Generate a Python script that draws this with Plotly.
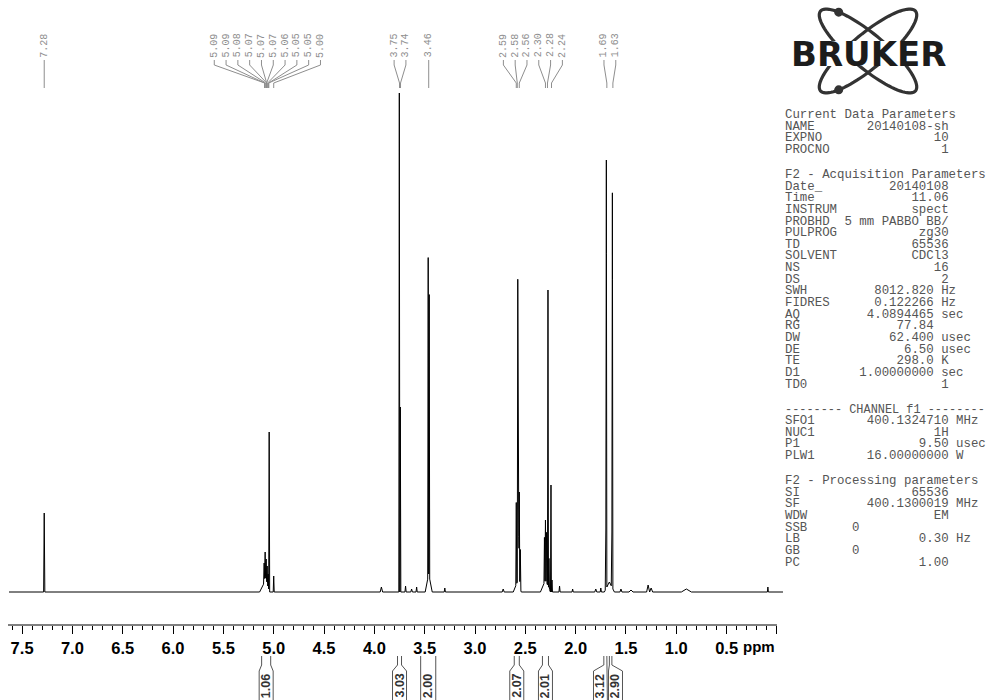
import numpy as np
import plotly.graph_objects as go

# ---------------- data ----------------
# spectrum peaks: position (ppm), height (arb. units), half width (ppm)
peak_ppm = [7.28, 5.10, 5.095, 5.085, 5.075, 5.065, 5.055, 5.045, 5.00,
            3.93, 3.752, 3.742, 3.69, 3.63, 3.58, 3.46, 3.465, 3.455, 3.30,
            2.72, 2.58, 2.59, 2.575, 2.568, 2.56, 2.55,
            2.30, 2.31, 2.30, 2.29, 2.275, 2.265, 2.245, 2.235,
            2.16, 2.03, 1.80, 1.75, 1.665, 1.70, 1.695, 1.64, 1.635,
            1.55, 1.45, 1.28, 1.25, 0.90, 0.09]
peak_height = [79, 8, 22, 35, 30, 25, 18, 160, 16,
               5, 499, 185, 6, 3, 5, 18, 319, 282, 4,
               3, 10, 82, 304, 123, 95, 40,
               12, 45, 60, 50, 296, 30, 107, 12,
               6, 3, 3, 4, 10, 60, 418, 55, 386,
               3, 2, 7, 4, 3, 5]
peak_halfwidth = [0.006, 0.04, 0.006, 0.006, 0.006, 0.006, 0.006, 0.005, 0.005,
                  0.012, 0.005, 0.005, 0.006, 0.008, 0.006, 0.035, 0.005, 0.005, 0.006,
                  0.01, 0.04, 0.005, 0.005, 0.005, 0.005, 0.006,
                  0.05, 0.005, 0.005, 0.005, 0.005, 0.005, 0.004, 0.005,
                  0.006, 0.006, 0.01, 0.006, 0.05, 0.006, 0.005, 0.006, 0.005,
                  0.01, 0.02, 0.015, 0.015, 0.05, 0.005]
spectrum_start, spectrum_end = 7.63, -0.06

# peak picking labels (ppm)
peak_labels = [7.28, 5.09, 5.09, 5.08, 5.07, 5.07, 5.07, 5.06, 5.05, 5.05, 5.00,
               3.75, 3.74, 3.46, 2.59, 2.58, 2.56, 2.30, 2.28, 2.24, 1.69, 1.63]

# integrals
integral_values = ["1.06", "3.03", "2.00", "2.07", "2.01", "3.12", "2.90"]
integral_start = [5.12, 3.77, 3.54, 2.61, 2.33, 1.72, 1.665]
integral_end = [5.03, 3.73, 3.39, 2.56, 2.27, 1.69, 1.64]

# axis ticks
tick_values = [7.5, 7.0, 6.5, 6.0, 5.5, 5.0, 4.5, 4.0, 3.5, 3.0, 2.5, 2.0, 1.5, 1.0, 0.5, 0.0]

# parameter block
cur_keys = ["NAME", "EXPNO", "PROCNO"]
cur_vals = ["20140108-sh", "10", "1"]
acq_keys = ["Date_", "Time", "INSTRUM", "PROBHD", "PULPROG", "TD", "SOLVENT", "NS", "DS",
            "SWH", "FIDRES", "AQ", "RG", "DW", "DE", "TE", "D1", "TD0"]
acq_vals = ["20140108", "11.06", "spect", "5 mm PABBO BB/", "zg30", "65536", "CDCl3", "16", "2",
            "8012.820", "0.122266", "4.0894465", "77.84", "62.400", "6.50", "298.0", "1.00000000", "1"]
acq_units = ["", "", "", "", "", "", "", "", "",
             "Hz", "Hz", "sec", "", "usec", "usec", "K", "sec", ""]
chan_keys = ["SFO1", "NUC1", "P1", "PLW1"]
chan_vals = ["400.1324710", "1H", "9.50", "16.00000000"]
chan_units = ["MHz", "", "usec", "W"]
proc_keys = ["SI", "SF", "WDW", "SSB", "LB", "GB", "PC"]
proc_vals = ["65536", "400.1300019", "EM", "0", "0.30", "0", "1.00"]
proc_units = ["", "MHz", "", "", "Hz", "", ""]

# ---------------- layout constants ----------------
W, H = 991, 700
ML, MR = 8, 206
X_LEFT, X_RIGHT = 7.64, -0.08
PLOT_W = W - ML - MR
PPM_PER_PX = (X_LEFT - X_RIGHT) / PLOT_W
BASE_PX = 592          # baseline row (pixels from top)
AXIS_PX = 625          # axis row


def ydat(py):
    return BASE_PX - py


def paper_x(px):
    return (px - ML) / PLOT_W


def paper_y(py):
    return (H - py) / H


GRAY = "#8e8e8e"
fig = go.Figure()

# ---------------- spectrum ----------------
pk = np.array(peak_ppm)
hh = np.array(peak_height, dtype=float)
ww = np.array(peak_halfwidth)
xs = np.unique(np.concatenate([pk - ww, pk, pk + ww, [spectrum_start, spectrum_end]]))
xs = xs[(xs <= spectrum_start) & (xs >= spectrum_end)]
ys = np.zeros_like(xs)
for p, h, w in zip(pk, hh, ww):
    ys += np.clip(h * (1 - np.abs(xs - p) / w), 0, None)
fig.add_trace(go.Scatter(x=xs, y=ys, mode="lines", line=dict(color="#000000", width=1),
                         hoverinfo="skip", showlegend=False))

# axis line (only to 0 ppm)
fig.add_trace(go.Scatter(x=[X_LEFT, 0.0], y=[ydat(AXIS_PX)] * 2, mode="lines",
                         line=dict(color="#000000", width=1), hoverinfo="skip", showlegend=False))

# ---------------- peak labels ----------------
sp = 11.8 * PPM_PER_PX
clusters = [[v] for v in peak_labels]


def positions(c):
    m = float(np.mean(c))
    n = len(c)
    return [m + ((n - 1) / 2 - i) * sp for i in range(n)]


merged = True
while merged:
    merged = False
    for i in range(len(clusters) - 1):
        a = positions(clusters[i])
        b = positions(clusters[i + 1])
        if a[-1] - b[0] < sp:
            clusters[i] = clusters[i] + clusters.pop(i + 1)
            merged = True
            break

lx, ly = [], []
annotations = []
for c in clusters:
    pos = positions(c)
    for v, L in zip(c, pos):
        lx += [L, L, v, v, None]
        ly += [ydat(60), ydat(65), ydat(83), ydat(88), None]
        annotations.append(dict(x=L, y=ydat(45.5), xref="x", yref="y", text=f"{v:.2f}",
                                textangle=-90, showarrow=False, xanchor="center", yanchor="middle",
                                font=dict(family="Liberation Mono", size=10, color=GRAY)))
fig.add_trace(go.Scatter(x=lx, y=ly, mode="lines", line=dict(color=GRAY, width=1),
                         hoverinfo="skip", showlegend=False))

# ---------------- integrals ----------------
min_hw = 7 * PPM_PER_PX
centers = [(s + e) / 2 for s, e in zip(integral_start, integral_end)]
hws = [max(min_hw, (s - e) / 2) for s, e in zip(integral_start, integral_end)]
for i in range(len(centers) - 1):
    gap = (centers[i] - hws[i]) - (centers[i + 1] + hws[i + 1])
    if gap < PPM_PER_PX:
        push = (PPM_PER_PX - gap) / 2
        centers[i] += push
        centers[i + 1] -= push
ix, iy = [], []
for s, e, c, hw, val in zip(integral_start, integral_end, centers, hws, integral_values):
    for edge, bx in ((s, c + hw), (e, c - hw)):
        ix += [edge, edge, bx, bx, None]
        iy += [ydat(656), ydat(665), ydat(671), ydat(712), None]
    annotations.append(dict(x=c, y=ydat(686), xref="x", yref="y", text=f"<b>{val}</b>",
                            textangle=-90, showarrow=False, xanchor="center", yanchor="middle",
                            font=dict(family="Liberation Sans", size=12.5, color="#333333")))
fig.add_trace(go.Scatter(x=ix, y=iy, mode="lines", line=dict(color="#555555", width=1),
                         hoverinfo="skip", showlegend=False))

# ppm unit label
annotations.append(dict(x=0.0, y=ydat(646), xref="x", yref="y", text="<b>ppm</b>", showarrow=False,
                        xanchor="right", yanchor="middle",
                        font=dict(family="Liberation Sans", size=15, color="#000000")))

# ---------------- parameter block ----------------
NB = "\u00a0"


def fmt(key, val, unit, width):
    s = key + val.rjust(width - len(key))
    if unit:
        s += " " + unit
    return s


short_col = {"SWH", "FIDRES", "AQ", "RG", "DW", "DE", "TE", "D1"}
lines = [("Current Data Parameters", False, 12.4)]
lines += [(fmt(k, v, "", 22), False, 12.4) for k, v in zip(cur_keys, cur_vals)]
lines += [("F2 - Acquisition Parameters", True, 12.4)]
lines += [(fmt(k, v, u, 20 if k in short_col else 22), False, 12.4)
          for k, v, u in zip(acq_keys, acq_vals, acq_units)]
lines += [("-------- CHANNEL f1 --------", True, 11.9)]
lines += [(fmt(k, v, u, 22), False, 12.4) for k, v, u in zip(chan_keys, chan_vals, chan_units)]
lines += [("F2 - Processing parameters", True, 12.4)]
lines += [(fmt(k, v, u, 10 if k in ("SSB", "GB") else 22), False, 12.4)
          for k, v, u in zip(proc_keys, proc_vals, proc_units)]

py = 115.0
for idx, (txt, gap_before, fsize) in enumerate(lines):
    if idx > 0:
        py += 11.65 + (13.3 if gap_before else 0)
    annotations.append(dict(x=paper_x(783), y=paper_y(py), xref="paper", yref="paper",
                            text=txt.replace(" ", NB), showarrow=False,
                            xanchor="left", yanchor="middle",
                            font=dict(family="Liberation Mono", size=fsize, color="#555555")))

# ---------------- Bruker logo ----------------
shapes = []


def ellipse_path(cx, cy, a, b, theta_deg, n=90):
    th = np.radians(theta_deg)
    t = np.linspace(0, 2 * np.pi, n, endpoint=False)
    X = cx + a * np.cos(t) * np.cos(th) - b * np.sin(t) * np.sin(th)
    Y = cy + a * np.cos(t) * np.sin(th) + b * np.sin(t) * np.cos(th)
    pts = [f"{paper_x(x):.5f},{paper_y(y):.5f}" for x, y in zip(X, Y)]
    return "M" + " L".join(pts) + " Z"


LCX, LCY, LA, LB_, LT = 868, 51, 62, 17, 40
for th in (LT, -LT):
    shapes.append(dict(type="path", path=ellipse_path(LCX, LCY, LA, LB_, th), xref="paper",
                       yref="paper", line=dict(color="#333333", width=3.2), layer="above"))
for th, t in ((LT, np.pi + 0.7), (-LT, np.pi - 0.7)):
    r = np.radians(th)
    dx = LCX + LA * np.cos(t) * np.cos(r) - LB_ * np.sin(t) * np.sin(r)
    dy = LCY + LA * np.cos(t) * np.sin(r) + LB_ * np.sin(t) * np.cos(r)
    shapes.append(dict(type="circle", xref="paper", yref="paper",
                       x0=paper_x(dx - 4.5), x1=paper_x(dx + 4.5),
                       y0=paper_y(dy + 4.5), y1=paper_y(dy - 4.5),
                       fillcolor="#333333", line=dict(color="#333333", width=0), layer="above"))
shapes.append(dict(type="rect", xref="paper", yref="paper", x0=paper_x(786), x1=paper_x(952),
                   y0=paper_y(66), y1=paper_y(41), fillcolor="white",
                   line=dict(width=0), layer="above"))
annotations.append(dict(x=paper_x(868), y=paper_y(54), xref="paper", yref="paper",
                        text="<b>BRUKER</b>", showarrow=False, xanchor="center", yanchor="middle",
                        font=dict(family="DejaVu Sans", size=34, color="#1c1c1c")))

# ---------------- layout ----------------
fig.update_layout(
    width=W, height=H,
    margin=dict(l=ML, r=MR, t=0, b=0, pad=0),
    paper_bgcolor="white", plot_bgcolor="white",
    showlegend=False,
    xaxis=dict(range=[X_LEFT, X_RIGHT], anchor="free", position=(H - AXIS_PX) / H,
               showline=False, showgrid=False, zeroline=False,
               tickmode="array", tickvals=tick_values,
               ticktext=[f"{v:.1f}" if v != 0 else " " for v in tick_values],
               ticks="outside", ticklen=8, tickwidth=1, tickcolor="#000000",
               tickfont=dict(family="Liberation Sans", size=16.5, color="#000000", weight="bold"),
               minor=dict(tickmode="linear", tick0=0, dtick=0.1, ticks="outside", ticklen=4,
                          tickwidth=1, tickcolor="#000000", showgrid=False)),
    yaxis=dict(range=[ydat(H), ydat(0)], visible=False, showgrid=False, zeroline=False),
    annotations=annotations,
    shapes=shapes,
)

fig.write_html("out.html", config={"displayModeBar": False},
               post_script="document.body.style.margin='0px';")
